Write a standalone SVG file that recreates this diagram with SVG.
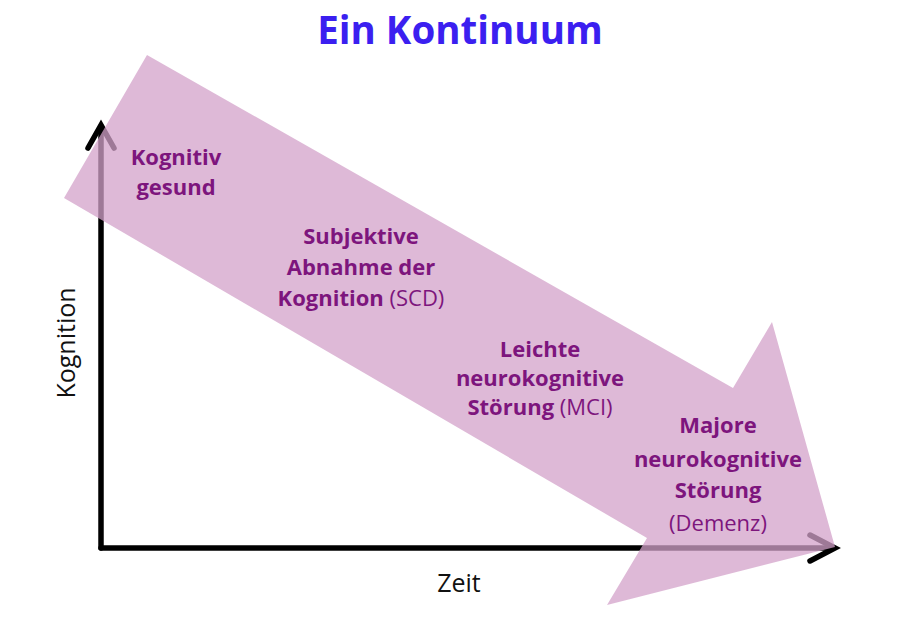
<svg xmlns="http://www.w3.org/2000/svg" width="913" height="629" viewBox="0 0 913 629">
<style>
.axis{fill:none;stroke:#000;stroke-width:5.5;stroke-linecap:round;stroke-linejoin:miter}
.lbl{font-family:"Open Sans","Noto Sans",sans-serif;font-size:22px;font-weight:bold;fill:#7d157d;text-anchor:middle}
.lbl tspan.r{font-weight:normal}
.ax{font-family:"Open Sans","Noto Sans",sans-serif;font-size:25px;fill:#111;text-anchor:middle}
</style>
<rect width="913" height="629" fill="#fff"/>
<text x="460" y="44" style="font-family:'Open Sans','Noto Sans',sans-serif;font-size:38.5px;font-weight:bold;fill:#3b1ff0;text-anchor:middle">Ein Kontinuum</text>
<g id="connectors">
<g id="axis-y">
<line class="axis" x1="101" y1="548" x2="101" y2="127"/>
<polyline class="axis" points="88,148 101,125 114,148"/>
</g>
<g id="axis-x">
<line class="axis" x1="101" y1="548" x2="833" y2="548"/>
<polyline class="axis" points="810,535 835,548 810,561"/>
</g>
</g>
<g id="continuum-arrow">
<polygon points="147,55 733,388 772,322 835,547 607,605 647,538 64,198" fill="rgb(211,162,202)" fill-opacity="0.75"/>
</g>
<g id="node-gesund">
<text class="lbl" x="176" y="165">Kognitiv</text>
<text class="lbl" x="176" y="195">gesund</text>
</g>
<g id="node-scd">
<text class="lbl" x="361" y="244">Subjektive</text>
<text class="lbl" x="361" y="275">Abnahme der</text>
<text class="lbl" x="361" y="306">Kognition <tspan class="r">(SCD)</tspan></text>
</g>
<g id="node-mci">
<text class="lbl" x="540" y="357">Leichte</text>
<text class="lbl" x="540" y="386">neurokognitive</text>
<text class="lbl" x="540" y="415">Störung <tspan class="r">(MCI)</tspan></text>
</g>
<g id="node-demenz">
<text class="lbl" x="718" y="433">Majore</text>
<text class="lbl" x="718" y="467">neurokognitive</text>
<text class="lbl" x="718" y="498">Störung</text>
<text class="lbl" x="718" y="531"><tspan class="r">(Demenz)</tspan></text>
</g>
<text class="ax" x="459" y="592">Zeit</text>
<text class="ax" transform="translate(75,343) rotate(-90)" x="0" y="0">Kognition</text>
</svg>
